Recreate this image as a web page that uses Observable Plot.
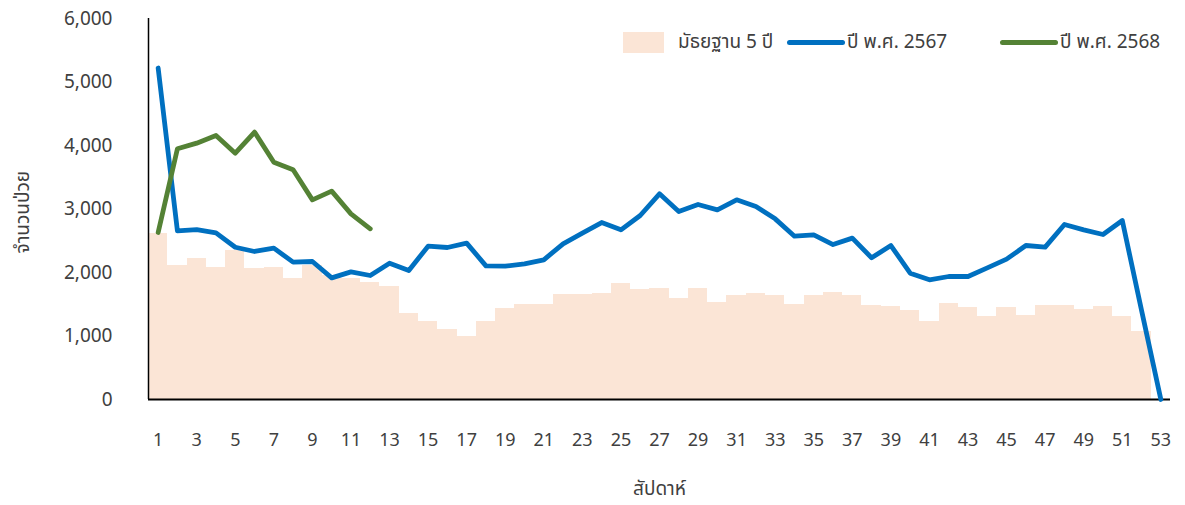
<!DOCTYPE html>
<html>
<head>
<meta charset="utf-8">
<script src="https://cdn.jsdelivr.net/npm/d3@7"></script>
<script src="https://cdn.jsdelivr.net/npm/@observablehq/plot@0.6"></script>
<style>
  html, body { margin: 0; padding: 0; background: #fff; }
  #wrap { position: relative; width: 1185px; height: 505px; font-family: Tahoma, "Noto Sans Thai", "Noto Sans", "DejaVu Sans", sans-serif; color: #404040; }
  #legend { position: absolute; top: 0; left: 0; width: 1185px; height: 80px; font-size: 19px; color: #404040; white-space: nowrap; }
  .item { position: absolute; top: 29px; height: 26px; display: flex; align-items: center; }
  .sw-rect { display: inline-block; width: 41px; height: 21px; background: #FBE5D6; margin-right: 14px; }
  .sw-line { display: inline-block; width: 58px; height: 5px; border-radius: 3px; margin-right: 2px; }
</style>
</head>
<body>
<div id="wrap">
  <div id="chart"></div>
  <div id="legend"></div>
</div>
<script>
// weeks
const weeks = d3.range(1, 54);
// 5-year median (bars), weeks 1..52 (week 53 has none)
const median5 = [2620, 2110, 2215, 2085, 2350, 2070, 2085, 1900, 2110, 1960,
  1900, 1850, 1780, 1360, 1235, 1100, 990, 1230, 1440, 1495,
  1495, 1655, 1655, 1665, 1820, 1730, 1745, 1595, 1745, 1535,
  1630, 1665, 1630, 1495, 1630, 1690, 1630, 1480, 1465, 1400,
  1235, 1515, 1445, 1310, 1445, 1330, 1480, 1480, 1420, 1460,
  1310, 1075];
// year 2567 (blue), weeks 1..53
const y2567 = [5220, 2655, 2675, 2625, 2398, 2331, 2383, 2163, 2173, 1916,
  2010, 1953, 2147, 2031, 2415, 2394, 2462, 2105, 2100, 2137,
  2200, 2452, 2619, 2787, 2672, 2898, 3239, 2961, 3071, 2987,
  3144, 3039, 2845, 2572, 2593, 2440, 2541, 2231, 2425, 1989,
  1885, 1937, 1937, 2073, 2210, 2425, 2399, 2756, 2672, 2598,
  2819, 1400, 0];
// year 2568 (green), weeks 1..12
const y2568 = [2630, 3948, 4037, 4157, 3879, 4210, 3737, 3617, 3144, 3281, 2924, 2688];

const xTicks = d3.range(1, 54, 2);
const yTicks = [0, 1000, 2000, 3000, 4000, 5000, 6000];

const legendItems = [
  {label: "มัธยฐาน 5 ปี", type: "rect", color: "#FBE5D6"},
  {label: "ปี พ.ศ. 2567", type: "line", color: "#0070C0"},
  {label: "ปี พ.ศ. 2568", type: "line", color: "#548235"}
];

const barData = median5.map((v, i) => ({w: weeks[i], v}));
const d67 = y2567.map((v, i) => ({w: weeks[i], v}));
const d68 = y2568.map((v, i) => ({w: weeks[i], v}));

const font = 'Tahoma, "Noto Sans Thai", "Noto Sans", "DejaVu Sans", sans-serif';

const chart = Plot.plot({
  width: 1185,
  height: 505,
  marginLeft: 148,
  marginRight: 15,
  marginTop: 18,
  marginBottom: 106,
  style: {fontFamily: font, fontSize: "18px", color: "#404040", background: "#fff"},
  x: {domain: [0.5, 53.5], ticks: xTicks, tickFormat: d => d, label: null},
  y: {domain: [0, 6000], ticks: yTicks, tickFormat: d3.format(","), label: null},
  marks: [
    Plot.rectY(barData, {x1: d => d.w - 0.5, x2: d => d.w + 0.5, y: "v", fill: "#FBE5D6", inset: 0, shapeRendering: "crispEdges"}),
    Plot.axisY({ticks: yTicks, tickFormat: d3.format(","), tickSize: 0, tickPadding: 36, fontSize: 19, fill: "#404040"}),
    Plot.axisX({ticks: xTicks, tickFormat: d => d, tickSize: 0, tickPadding: 34, fontSize: 18, fill: "#404040"}),
    Plot.ruleX([0.5], {stroke: "#000", strokeWidth: 1.5}),
    Plot.ruleY([0], {stroke: "#000", strokeWidth: 2}),
    Plot.line(d67, {x: "w", y: "v", stroke: "#0070C0", strokeWidth: 4.8, strokeLinejoin: "round", strokeLinecap: "round"}),
    Plot.line(d68, {x: "w", y: "v", stroke: "#548235", strokeWidth: 4.8, strokeLinejoin: "round", strokeLinecap: "round"}),
    Plot.text(["จำนวนป่วย"], {frameAnchor: "left", textAnchor: "middle", dx: -126, rotate: -90, fontSize: 19, fill: "#404040", y: 2950}),
    Plot.text(["สัปดาห์"], {frameAnchor: "bottom", dy: 95, fontSize: 19, fill: "#404040", x: 27})
  ]
});
document.getElementById("chart").appendChild(chart);

const lg = document.getElementById("legend");
const legendLeft = [623, 787, 1000];
legendItems.forEach((it, i) => {
  const el = document.createElement("div");
  el.className = "item";
  el.style.left = legendLeft[i] + "px";
  const sw = document.createElement("span");
  sw.className = it.type === "rect" ? "sw-rect" : "sw-line";
  sw.style.background = it.color;
  el.appendChild(sw);
  const t = document.createElement("span");
  t.textContent = it.label;
  el.appendChild(t);
  lg.appendChild(el);
});
</script>
</body>
</html>
